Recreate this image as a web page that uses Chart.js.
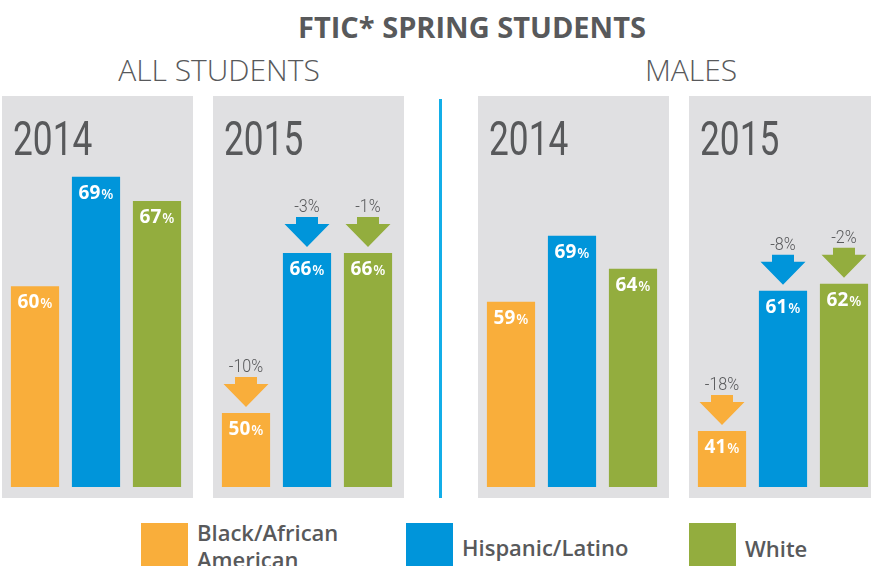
<!DOCTYPE html>
<html lang="en">
<head>
<meta charset="UTF-8">
<title>FTIC* Spring Students</title>
<script src="https://cdn.jsdelivr.net/npm/chart.js"></script>
<style>
  html, body { margin: 0; padding: 0; background: #fff; }
  body { width: 871px; height: 566px; position: relative; overflow: hidden; font-family: "Open Sans", sans-serif; color: #58595b; }
  .abs { position: absolute; white-space: nowrap; }
  .title { left: 172px; width: 600px; top: 12px; font-size: 29px; line-height: 29px; font-weight: 700; text-align: center; }
  .group { top: 55px; font-size: 30px; line-height: 30px; font-weight: 300; width: 300px; text-align: center; }
  .panel { position: absolute; top: 96px; background: #e0e0e2; }
  .divider { left: 439px; top: 99px; width: 3px; height: 399px; background: #13aee8; }
  .swatch { top: 523px; width: 47px; height: 47px; }
  .leg { font-size: 22px; line-height: 27px; font-weight: 600; }
</style>
</head>
<body>

<div class="abs title">FTIC* SPRING STUDENTS</div>
<div class="abs group" style="left:69px">ALL STUDENTS</div>
<div class="abs group" style="left:541px">MALES</div>
<div class="abs divider"></div>

<canvas id="all2014" class="panel" width="191" height="402" style="left:2px"></canvas>
<canvas id="all2015" class="panel" width="191" height="402" style="left:213px"></canvas>
<canvas id="males2014" class="panel" width="191" height="402" style="left:478px"></canvas>
<canvas id="males2015" class="panel" width="191" height="402" style="left:689px"></canvas>

<!-- legend -->
<div class="abs swatch" style="left:141px;background:#f9ae3b"></div>
<div class="abs leg" style="left:197px;top:519px">Black/African<br>American</div>
<div class="abs swatch" style="left:406px;background:#0095da"></div>
<div class="abs leg" style="left:462px;top:534px">Hispanic/Latino</div>
<div class="abs swatch" style="left:689px;background:#93ad3e"></div>
<div class="abs leg" style="left:745px;top:535px">White</div>

<script>
const categories = ['Black/African American', 'Hispanic/Latino', 'White'];
const barColors = ['#f9ae3b', '#0095da', '#93ad3e'];

// percentages
const allStudents2014 = [60, 69, 67];
const allStudents2015 = [50, 66, 66];
const males2014 = [59, 69, 64];
const males2015 = [41, 61, 62];

// change from 2014 to 2015, shown above the 2015 bars
const allStudentsChange = [-10, -3, -1];
const malesChange = [-18, -8, -2];

// condensed-looking text: Roboto squeezed sideways
function narrowText(ctx, text, x, y, scaleX, align) {
  const w = ctx.measureText(text).width * scaleX;
  let left = x;
  if (align === 'center') left = x - w / 2;
  ctx.save();
  ctx.translate(left, y);
  ctx.scale(scaleX, 1);
  ctx.textAlign = 'left';
  ctx.fillText(text, 0, 0);
  ctx.restore();
}

// draws the year, the value labels and the down arrows
const barLabels = {
  id: 'barLabels',
  afterDatasetsDraw(chart, args, opts) {
    const ctx = chart.ctx;
    const meta = chart.getDatasetMeta(0);
    const values = chart.data.datasets[0].data;
    ctx.save();
    ctx.textBaseline = 'alphabetic';

    ctx.fillStyle = '#58595b';
    ctx.font = '49px Roboto';
    narrowText(ctx, opts.year, 11, 59, 0.72, 'left');

    meta.data.forEach((bar, i) => {
      const num = String(values[i]);
      ctx.font = 'bold 19px "Open Sans"';
      const w1 = ctx.measureText(num).width;
      ctx.font = '600 14px "Open Sans"';
      const w2 = ctx.measureText('%').width;
      const x = bar.x - (w1 + w2 + 1) / 2;
      const y = bar.y + 22;
      ctx.textAlign = 'left';
      ctx.fillStyle = '#fff';
      ctx.font = 'bold 19px "Open Sans"';
      ctx.fillText(num, x, y);
      ctx.font = '600 14px "Open Sans"';
      ctx.fillText('%', x + w1 + 1, y);

      if (opts.changes) {
        const tip = bar.y - 6;
        const headTop = tip - 23;
        const shaftTop = headTop - 7;
        ctx.fillStyle = bar.options.backgroundColor;
        ctx.beginPath();
        ctx.moveTo(bar.x - 11, shaftTop);
        ctx.lineTo(bar.x + 11, shaftTop);
        ctx.lineTo(bar.x + 11, headTop);
        ctx.lineTo(bar.x + 22.5, headTop);
        ctx.lineTo(bar.x, tip);
        ctx.lineTo(bar.x - 22.5, headTop);
        ctx.lineTo(bar.x - 11, headTop);
        ctx.closePath();
        ctx.fill();

        ctx.fillStyle = '#58595b';
        ctx.font = '300 19px Roboto';
        narrowText(ctx, opts.changes[i] + '%', bar.x, shaftTop - 5, 0.85, 'center');
      }
    });
    ctx.restore();
  }
};

function makePanel(id, year, values, changes, yMin, yMax) {
  new Chart(document.getElementById(id), {
    type: 'bar',
    data: {
      labels: categories,
      datasets: [{
        data: values,
        backgroundColor: barColors,
        barPercentage: 0.79,
        categoryPercentage: 1
      }]
    },
    options: {
      responsive: false,
      animation: false,
      layout: { padding: { top: 60, bottom: 11, left: 2.5, right: 5.5 } },
      scales: {
        x: { display: false },
        y: { display: false, min: yMin, max: yMax }
      },
      plugins: {
        legend: { display: false },
        tooltip: { enabled: false },
        barLabels: { year: year, changes: changes }
      }
    },
    plugins: [barLabels]
  });
}

// the original is not drawn to one scale, so each panel has its own range
makePanel('all2014', '2014', allStudents2014, null, 43.5, 70.7);
makePanel('all2015', '2015', allStudents2015, allStudentsChange, 42.6, 75.7);
makePanel('males2014', '2014', males2014, null, 30.9, 81.1);
makePanel('males2015', '2015', males2015, malesChange, 33, 80.2);
</script>
</body>
</html>
